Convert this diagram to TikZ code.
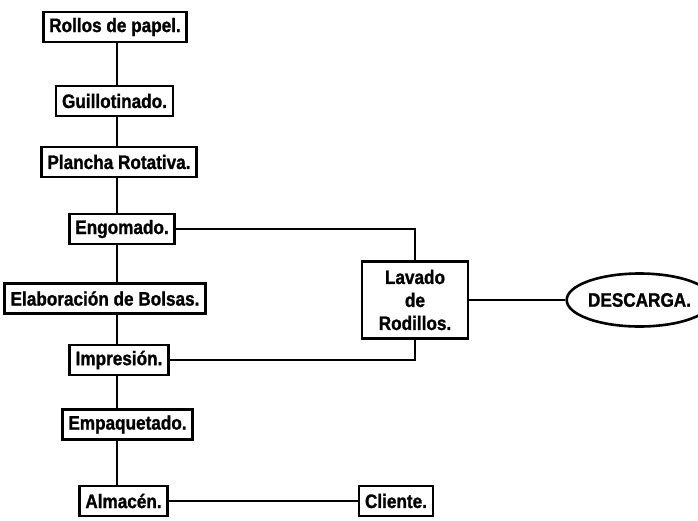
\documentclass[tikz,border=0pt]{standalone}
\usepackage{fontspec}
\setmainfont{Liberation Sans}[FakeStretch=0.88, FakeBold=1.2]
\usetikzlibrary{shapes.geometric}

\begin{document}
\begin{tikzpicture}[
				x=1pt, y=1pt,
				line width=2pt,
				font=\bfseries\fontsize{19.5}{23}\selectfont,
				box/.style={draw, line width=2.6pt, inner xsep=6pt, inner ysep=3pt, minimum height=30pt},
				link/.style={line width=2pt},
			]
				\useasboundingbox (0,0) rectangle (698,-520);
				\coordinate (trunk) at (117,0);

				\node (rollos) [box] at (115,-27) {Rollos de papel.};
				\node (guillo) [box] at (114.5,-101) {Guillotinado.};
				\node (plancha) [box] at (119,-162) {Plancha Rotativa.};
				\node (engomado) [box] at (122,-229) {Engomado.};
				\node (elab) [box] at (105,-298.5) {Elaboración de Bolsas.};
				\node (impresion) [box] at (119,-360) {Impresión.};
				\node (empaq) [box] at (127.5,-424.5) {Empaquetado.};
				\node (almacen) [box] at (123.5,-501) {Almacén.};
				\node (cliente) [box] at (396,-501) {Cliente.};
				\node (lavado) [box, align=center, minimum width=106pt, minimum height=77pt] at (415,-300) {Lavado\\de\\Rodillos.};
				\node (descarga) [draw, ellipse, line width=2.6pt, inner sep=0pt, minimum width=115pt, minimum height=53pt] at (639.5,-300) {DESCARGA.};

				\draw[link] (rollos.south -| trunk) -- (guillo.north -| trunk);
				\draw[link] (guillo.south -| trunk) -- (plancha.north -| trunk);
				\draw[link] (plancha.south -| trunk) -- (engomado.north -| trunk);
				\draw[link] (engomado.south -| trunk) -- (elab.north -| trunk);
				\draw[link] (elab.south -| trunk) -- (impresion.north -| trunk);
				\draw[link] (impresion.south -| trunk) -- (empaq.north -| trunk);
				\draw[link] (empaq.south -| trunk) -- (almacen.north -| trunk);
				\draw[link] (engomado.east) -| (lavado.north);
				\draw[link] (lavado.south) |- (impresion.east);
				\draw[link] (lavado.east) -- (descarga.west);
				\draw[link] (almacen.east) -- (cliente.west);
			\end{tikzpicture}
\end{document}
